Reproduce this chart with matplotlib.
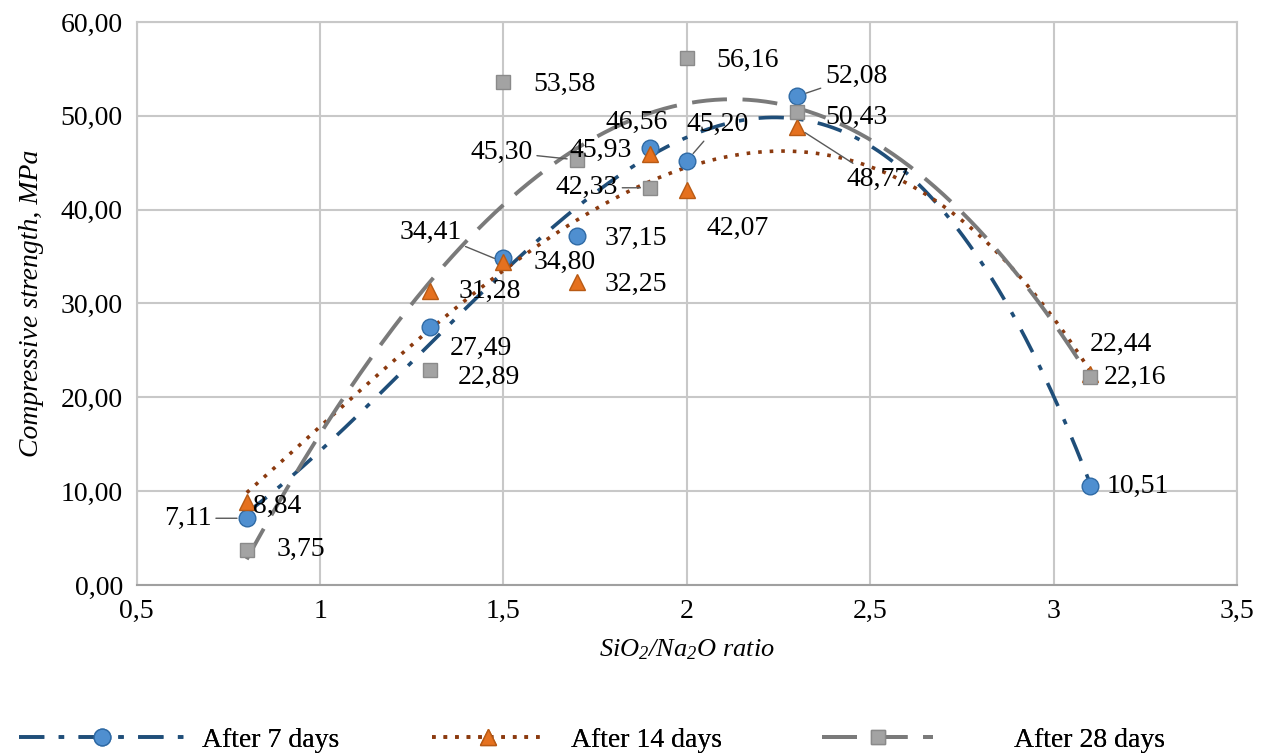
import numpy as np
import matplotlib
matplotlib.use("Agg")
import matplotlib.pyplot as plt
from matplotlib.lines import Line2D
from matplotlib.ticker import FuncFormatter

plt.rcParams['font.family'] = ['Liberation Serif', 'DejaVu Serif']
plt.rcParams['mathtext.fontset'] = 'custom'
plt.rcParams['mathtext.rm'] = 'Liberation Serif:italic'
plt.rcParams['mathtext.it'] = 'Liberation Serif:italic'

# data
ratio = [0.8, 1.3, 1.5, 1.7, 1.9, 2.0, 2.3, 3.1]
day7 = [7.11, 27.49, 34.80, 37.15, 46.56, 45.20, 52.08, 10.51]
day14 = [8.84, 31.28, 34.41, 32.25, 45.93, 42.07, 48.77, 22.44]
day28 = [3.75, 22.89, 53.58, 45.30, 42.33, 56.16, 50.43, 22.16]
series_names = ['After 7 days', 'After 14 days', 'After 28 days']

# label offsets in pixels (dx, dy, ha, leader)
off7 = [(-35, 0, 'right', True), (20, -21, 'left', False), (30, -4, 'left', False),
        (28, -2, 'left', False), (18, 26, 'right', False), (0, 36, 'left', True),
        (28, 20, 'left', True), (16, 0, 'left', False)]
off14 = [(6, -4, 'left', False), (28, 0, 'left', False), (-42, 30, 'right', True),
         (28, -2, 'left', False), (-18, 4, 'right', False), (20, -38, 'left', False),
         (50, -52, 'left', True), (0, 30, 'left', False)]
off28 = [(30, 0, 'left', False), (28, -7, 'left', False), (30, -2, 'left', False),
         (-44, 8, 'right', True), (-32, 0, 'right', True), (30, -2, 'left', False),
         (28, -6, 'left', False), (14, 0, 'left', False)]

fig = plt.figure(figsize=(12.66, 7.55), dpi=100)
ax = fig.add_axes([0.108, 0.2252, 0.869, 0.7457])

styles = [
    dict(mk='o', ms=12, fc='#4f8fd0', ec='#2f6aa5', lc='#1f4e79', ls=(0, (7, 4, 1.5, 4)), lw=2.6, deg=3),
    dict(mk='^', ms=11, fc='#e5711f', ec='#b85a14', lc='#8b3a0f', ls=(0, (1, 2.2)), lw=2.6, deg=3),
    dict(mk='s', ms=10.5, fc='#a3a3a3', ec='#8a8a8a', lc='#7a7a7a', ls=(0, (9, 4)), lw=2.8, deg=3),
]
xs = np.linspace(min(ratio), max(ratio), 300)
handles = []
for ys, st, offs in zip([day7, day14, day28], styles, [off7, off14, off28]):
    coef = np.polyfit(ratio, ys, st['deg'])
    ax.plot(xs, np.polyval(coef, xs), color=st['lc'], ls=st['ls'], lw=st['lw'], zorder=3)
    ax.plot(ratio, ys, ls='none', marker=st['mk'], ms=st['ms'], mfc=st['fc'],
            mec=st['ec'], mew=1, zorder=4)
    for x, y, (dx, dy, ha, lead) in zip(ratio, ys, offs):
        ap = dict(arrowstyle='-', color='#595959', lw=1, shrinkA=1, shrinkB=7) if lead else None
        ax.annotate(('%.2f' % y).replace('.', ','), (x, y), xytext=(dx, dy),
                    textcoords='offset pixels', ha=ha, va='center', fontsize=20,
                    arrowprops=ap, zorder=5)
    handles.append(Line2D([], [], color=st['lc'], ls=st['ls'], lw=st['lw'], marker=st['mk'],
                          ms=st['ms'], mfc=st['fc'], mec=st['ec']))

ax.set_xlim(0.5, 3.5)
ax.set_ylim(0, 60)
ax.set_xticks(np.arange(0.5, 3.51, 0.5))
ax.set_yticks(np.arange(0, 61, 10))
ax.xaxis.set_major_formatter(FuncFormatter(lambda v, p: ('%g' % v).replace('.', ',')))
ax.yaxis.set_major_formatter(FuncFormatter(lambda v, p: ('%.2f' % v).replace('.', ',')))
ax.tick_params(labelsize=20, length=0, pad=10)
ax.grid(True, color='#c8c8c8', lw=1.5)
ax.set_axisbelow(True)
for s in ax.spines.values():
    s.set_color('#c8c8c8')
    s.set_linewidth(1.5)
ax.spines['bottom'].set_color('#a0a0a0')

ax.set_xlabel('SiO$_2$/Na$_2$O ratio', fontsize=19, style='italic', labelpad=10)
ax.set_ylabel('Compressive strength, MPa', fontsize=20, style='italic', labelpad=12)

# legend entries placed one by one, like the spread-out Excel legend
leg_x = [19 / 1266, 432 / 1266, 822 / 1266]
leg_len = [6, 4, 4]
leg_pad = [0.6, 1.0, 2.9]
for h, name, lx, ln, pad in zip(handles, series_names, leg_x, leg_len, leg_pad):
    lg = fig.legend([h], [name], loc='center left', bbox_to_anchor=(lx, 0.02),
                    frameon=False, fontsize=20, handlelength=ln, handletextpad=pad,
                    borderpad=0, borderaxespad=0)
    fig.add_artist(lg)

fig.savefig('out.png', dpi=100)
